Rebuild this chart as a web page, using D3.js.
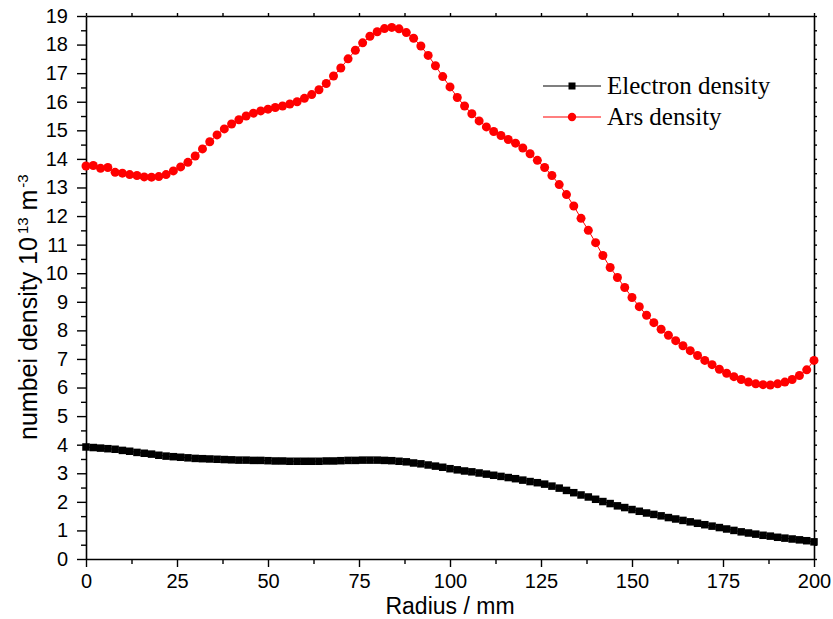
<!DOCTYPE html>
<html>
<head>
<meta charset="utf-8">
<script src="https://cdn.jsdelivr.net/npm/d3@7"></script>
<style>
  html, body { margin: 0; padding: 0; background: #fff; }
  svg { display: block; }
</style>
</head>
<body>
<svg id="chart" width="833" height="619"></svg>
<script>
const radius = [0,2,4,6,8,10,12,14,16,18,20,22,24,26,28,30,32,34,36,38,40,42,44,46,48,50,52,54,56,58,60,62,64,66,68,70,72,74,76,78,80,82,84,86,88,90,92,94,96,98,100,102,104,106,108,110,112,114,116,118,120,122,124,126,128,130,132,134,136,138,140,142,144,146,148,150,152,154,156,158,160,162,164,166,168,170,172,174,176,178,180,182,184,186,188,190,192,194,196,198,200];

const electronDensity = [3.92,3.90,3.88,3.86,3.84,3.80,3.77,3.73,3.70,3.67,3.63,3.60,3.58,3.56,3.54,3.52,3.51,3.50,3.49,3.48,3.47,3.46,3.46,3.45,3.45,3.44,3.43,3.43,3.42,3.42,3.42,3.42,3.42,3.43,3.43,3.44,3.45,3.45,3.46,3.46,3.46,3.45,3.44,3.42,3.40,3.36,3.33,3.29,3.25,3.21,3.16,3.12,3.08,3.05,3.01,2.97,2.93,2.89,2.85,2.81,2.76,2.71,2.67,2.62,2.55,2.48,2.40,2.32,2.24,2.17,2.09,2.01,1.94,1.86,1.80,1.73,1.67,1.61,1.56,1.51,1.45,1.40,1.35,1.30,1.25,1.20,1.15,1.10,1.05,1.00,0.95,0.91,0.87,0.83,0.80,0.76,0.73,0.70,0.67,0.64,0.60];

const arsDensity = [13.75,13.77,13.67,13.70,13.53,13.50,13.45,13.42,13.37,13.36,13.38,13.45,13.58,13.72,13.88,14.10,14.35,14.60,14.84,15.05,15.22,15.37,15.50,15.60,15.68,15.74,15.80,15.85,15.92,16.00,16.12,16.25,16.42,16.64,16.90,17.18,17.50,17.80,18.06,18.29,18.45,18.56,18.60,18.55,18.42,18.22,17.95,17.62,17.26,16.88,16.52,16.15,15.85,15.58,15.33,15.12,14.96,14.82,14.68,14.55,14.38,14.18,13.95,13.70,13.42,13.10,12.75,12.35,11.92,11.50,11.07,10.62,10.20,9.85,9.50,9.15,8.83,8.53,8.27,8.04,7.83,7.64,7.46,7.29,7.12,6.95,6.80,6.64,6.50,6.38,6.28,6.19,6.13,6.10,6.09,6.13,6.19,6.28,6.42,6.62,6.95];

const xTicks = [0,25,50,75,100,125,150,175,200];
const xMinorTicks = [12.5,37.5,62.5,87.5,112.5,137.5,162.5,187.5];
const yTicks = [0,1,2,3,4,5,6,7,8,9,10,11,12,13,14,15,16,17,18,19];
const yMinorTicks = [0.5,1.5,2.5,3.5,4.5,5.5,6.5,7.5,8.5,9.5,10.5,11.5,12.5,13.5,14.5,15.5,16.5,17.5,18.5];

const seriesNames = ["Electron density", "Ars density"];
const xTitle = "Radius / mm";

const svg = d3.select("#chart");
const L = 86, R = 814, T = 16, B = 559;
const x = d3.scaleLinear().domain([0, 200]).range([L, R]);
const y = d3.scaleLinear().domain([0, 19]).range([B, T]);

const sansFont = "'Liberation Sans', Arial, Helvetica, sans-serif";
const serifFont = "'Liberation Serif', 'Times New Roman', serif";

function styleAxis(g) {
  g.attr("font-family", sansFont).attr("font-size", 20);
  g.selectAll("path.domain").attr("stroke", "#000").attr("stroke-width", 1.6);
  g.selectAll(".tick line").attr("stroke", "#000").attr("stroke-width", 1.4);
  g.selectAll(".tick text").attr("fill", "#000");
}

// Bottom axis
svg.append("g").attr("transform", `translate(0,${B})`)
  .call(d3.axisBottom(x).tickValues(xTicks).tickSize(8).tickPadding(7).tickSizeOuter(0))
  .call(styleAxis);
svg.append("g").attr("transform", `translate(0,${B})`)
  .call(d3.axisBottom(x).tickValues(xMinorTicks).tickSize(5).tickFormat(""))
  .call(g => g.select(".domain").remove())
  .call(styleAxis);

// Left axis
svg.append("g").attr("transform", `translate(${L},0)`)
  .call(d3.axisLeft(y).tickValues(yTicks).tickSize(9).tickPadding(9).tickSizeOuter(0))
  .call(styleAxis);
svg.append("g").attr("transform", `translate(${L},0)`)
  .call(d3.axisLeft(y).tickValues(yMinorTicks).tickSize(5).tickFormat(""))
  .call(g => g.select(".domain").remove())
  .call(styleAxis);

// Top axis
svg.append("g").attr("transform", `translate(0,${T})`)
  .call(d3.axisTop(x).tickValues(xTicks.concat(xMinorTicks)).tickSize(3).tickSizeOuter(0).tickFormat(""))
  .call(styleAxis);

// Right axis
svg.append("g").attr("transform", `translate(${R},0)`)
  .call(d3.axisRight(y).tickValues(yTicks.concat(yMinorTicks)).tickSize(3).tickSizeOuter(0).tickFormat(""))
  .call(styleAxis);

// X title
svg.append("text")
  .attr("x", (L + R) / 2).attr("y", 614)
  .attr("text-anchor", "middle")
  .attr("font-family", sansFont).attr("font-size", 23)
  .attr("fill", "#000")
  .text(xTitle);

// Y title
const yt = svg.append("text")
  .attr("transform", "translate(37,440) rotate(-90)")
  .attr("text-anchor", "start")
  .attr("font-family", sansFont).attr("font-size", 25)
  .attr("fill", "#000");
yt.append("tspan").text("numbei density 10");
yt.append("tspan").attr("font-size", 15).attr("dy", -9).attr("dx", 3).text("13");
yt.append("tspan").attr("dy", 9).text(" m");
yt.append("tspan").attr("font-size", 15).attr("dy", -9).attr("dx", 2).text("-3");

const data0 = radius.map((r, i) => ({ r, v: electronDensity[i] }));
const data1 = radius.map((r, i) => ({ r, v: arsDensity[i] }));

const line = d3.line().x(d => x(d.r)).y(d => y(d.v));

// Electron density (black squares)
svg.append("path").datum(data0)
  .attr("d", line).attr("fill", "none").attr("stroke", "#000").attr("stroke-width", 1);
const sq = 7.5;
svg.append("g").selectAll("rect").data(data0).join("rect")
  .attr("x", d => x(d.r) - sq / 2).attr("y", d => y(d.v) - sq / 2)
  .attr("width", sq).attr("height", sq).attr("fill", "#000");

// Ars density (red circles)
svg.append("path").datum(data1)
  .attr("d", line).attr("fill", "none").attr("stroke", "#ff0000").attr("stroke-width", 1);
svg.append("g").selectAll("circle").data(data1).join("circle")
  .attr("cx", d => x(d.r)).attr("cy", d => y(d.v)).attr("r", 4.5).attr("fill", "#ff0000");

// Legend
const legend = svg.append("g");
const legRows = [
  { name: seriesNames[0], color: "#000", marker: "square", yy: 86 },
  { name: seriesNames[1], color: "#ff0000", marker: "circle", yy: 117 }
];
legRows.forEach(row => {
  legend.append("line").attr("x1", 543).attr("x2", 601).attr("y1", row.yy).attr("y2", row.yy)
    .attr("stroke", row.color).attr("stroke-width", 1.2);
  if (row.marker === "square") {
    legend.append("rect").attr("x", 572 - 3.5).attr("y", row.yy - 3.5).attr("width", 7).attr("height", 7).attr("fill", row.color);
  } else {
    legend.append("circle").attr("cx", 572).attr("cy", row.yy).attr("r", 4.2).attr("fill", row.color);
  }
  legend.append("text").attr("x", 607).attr("y", row.yy + 8)
    .attr("font-family", serifFont).attr("font-size", 25).attr("fill", "#000")
    .text(row.name);
});
</script>
</body>
</html>
